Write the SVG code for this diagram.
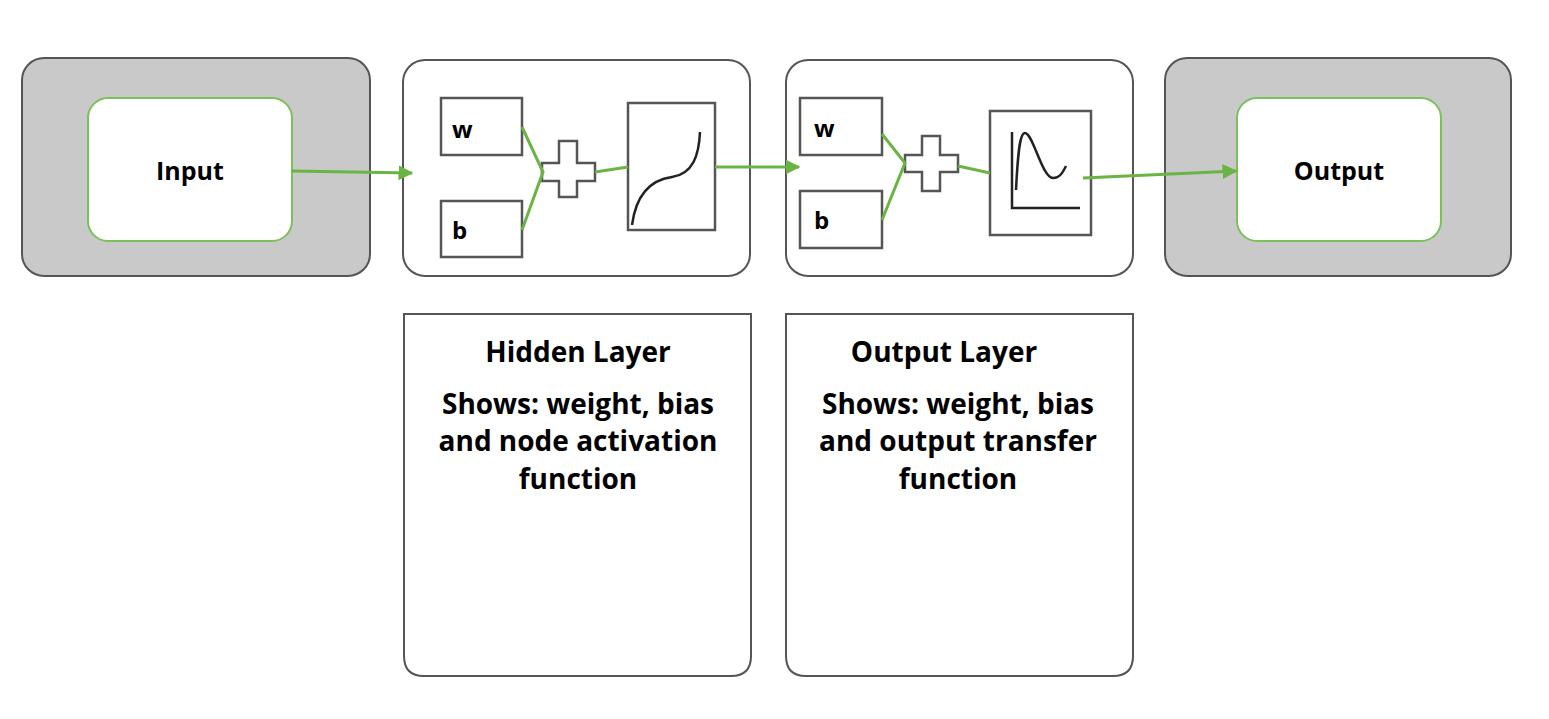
<svg xmlns="http://www.w3.org/2000/svg" width="1549" height="719" viewBox="0 0 1549 719">
<defs>
<style>
.outer{fill:#c9c9c9;stroke:#555;stroke-width:2}
.layer{fill:#fff;stroke:#555;stroke-width:2}
.inner{fill:#fff;stroke:#7cc05a;stroke-width:2}
.sq{fill:#fff;stroke:#555;stroke-width:2.5}
.g{stroke:#6ab443;stroke-width:3;fill:none}
.k{stroke:#222;stroke-width:2.5;fill:none}
text{font-family:"Open Sans","Liberation Sans",sans-serif;font-weight:bold;fill:#000}
.t{font-size:25px;text-anchor:middle}
.d{font-size:28px;text-anchor:middle}
.s{font-size:24px}
</style>
<marker id="ah" viewBox="0 0 10 10" refX="9" refY="5" markerWidth="5" markerHeight="5" orient="auto"><path d="M0,0L10,5L0,10z" fill="#6ab443"/></marker>
</defs>
<rect width="1549" height="719" fill="#fff"/>
<g id="input"><rect class="outer" x="22" y="58" width="348" height="218" rx="22"/><rect class="inner" x="88" y="98" width="204" height="143" rx="20"/><text class="t" x="190" y="180">Input</text></g>
<g id="hidden"><rect class="layer" x="403" y="60" width="347" height="216" rx="22"/>
<rect class="sq" x="441" y="98" width="81" height="57"/><text class="s" x="452" y="138">w</text>
<rect class="sq" x="441" y="201" width="81" height="56"/><text class="s" x="452" y="239">b</text>
<path class="sq" d="M559,141H577V163H595V181H577V197H559V181H542V163H559Z" stroke-width="2"/>
<rect class="sq" x="628" y="103" width="87" height="127"/>
<path class="k" d="M632,225C636,195 650,180 672,177C693,174 699,155 700,132"/>
</g>
<g id="outlayer"><rect class="layer" x="786" y="60" width="347" height="216" rx="22"/>
<rect class="sq" x="800" y="98" width="82" height="57"/><text class="s" x="814" y="137">w</text>
<rect class="sq" x="800" y="191" width="82" height="57"/><text class="s" x="814" y="229">b</text>
<path class="sq" d="M922,136H940V155H958V172H940V191H922V172H905V155H922Z" stroke-width="2"/>
<rect class="sq" x="990" y="111" width="101" height="124"/>
<path class="k" d="M1012,132V208H1080"/>
<path class="k" d="M1016,190C1018,150 1020,133 1025,133C1033,133 1042,178 1053,178C1060,178 1063,172 1066,166"/>
</g>
<g id="output"><rect class="outer" x="1165" y="58" width="346" height="218" rx="22"/><rect class="inner" x="1237" y="98" width="204" height="143" rx="20"/><text class="t" x="1339" y="180">Output</text></g>
<g id="hiddenDesc"><path class="layer" d="M404,314H751V656Q751,676 731,676H424Q404,676 404,656Z"/>
<text class="d" x="578" y="362">Hidden Layer</text><text class="d" x="578" y="414">Shows: weight, bias</text><text class="d" x="578" y="451">and node activation</text><text class="d" x="578" y="489">function</text></g>
<g id="outputDesc"><path class="layer" d="M786,314H1133V656Q1133,676 1113,676H806Q786,676 786,656Z"/>
<text class="d" x="944" y="362">Output Layer</text><text class="d" x="958" y="414">Shows: weight, bias</text><text class="d" x="958" y="451">and output transfer</text><text class="d" x="958" y="489">function</text></g>
<g id="connectors">
<path class="g" d="M292,171L412,173" marker-end="url(#ah)"/>
<path class="g" d="M522,127L543,172L522,230"/>
<path class="g" d="M595,172L628,167"/>
<path class="g" d="M715,167L799,167" marker-end="url(#ah)"/>
<path class="g" d="M882,134L905,163L882,220"/>
<path class="g" d="M958,166L990,173"/>
<path class="g" d="M1083,178L1236,171" marker-end="url(#ah)"/>
</g>
</svg>
